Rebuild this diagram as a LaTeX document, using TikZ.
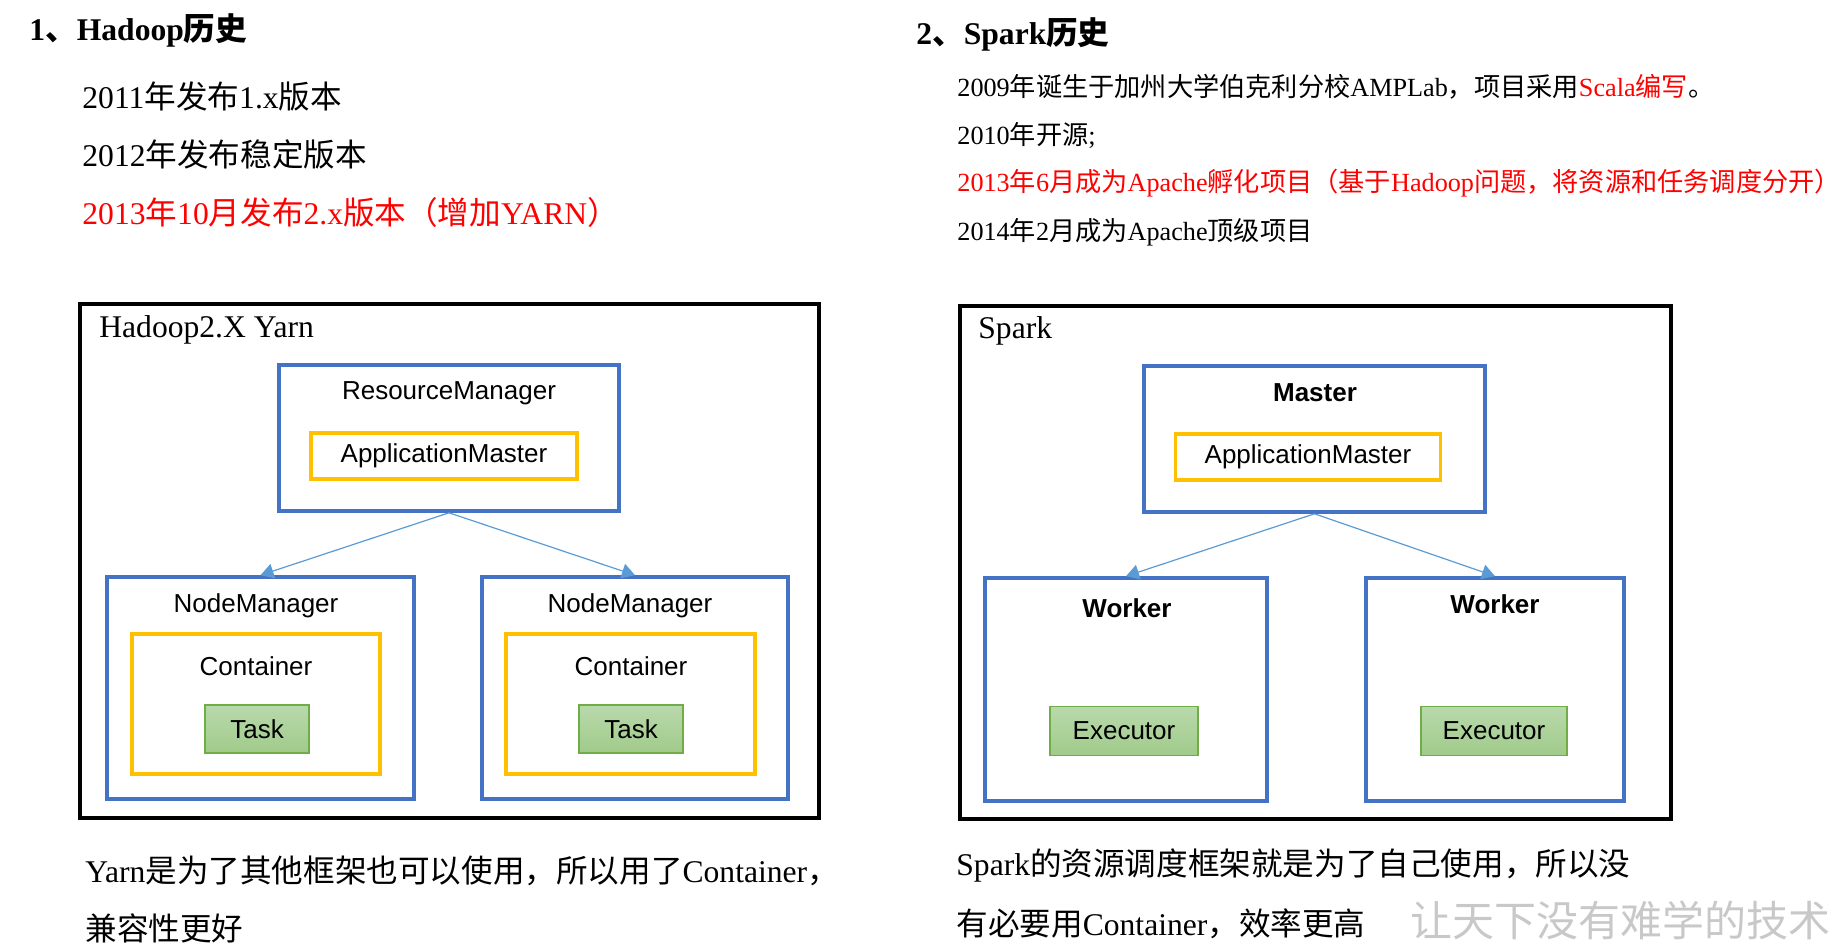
\documentclass[tikz,border=0pt]{standalone}
\usepackage{fontspec}
\setmainfont{Liberation Serif}
\newfontfamily\cjk{Noto Sans CJK SC}
\newfontfamily\boxfont{Liberation Sans}
\usetikzlibrary{arrows.meta,fit}

% switch to the CJK font for Chinese characters and full-width punctuation
\XeTeXinterchartokenstate=1
\newXeTeXintercharclass\cjkclass
\newcount\cjkc
\cjkc="3000 \loop\XeTeXcharclass\cjkc=\cjkclass \ifnum\cjkc<"303F \advance\cjkc by 1 \repeat
\cjkc="4E00 \loop\XeTeXcharclass\cjkc=\cjkclass \ifnum\cjkc<"9FFF \advance\cjkc by 1 \repeat
\cjkc="FF00 \loop\XeTeXcharclass\cjkc=\cjkclass \ifnum\cjkc<"FFEF \advance\cjkc by 1 \repeat
\makeatletter
\def\tocjk{\edef\keepfam{\f@family}\cjk}
\def\fromcjk{\fontfamily{\keepfam}\selectfont}
\makeatother
\XeTeXinterchartoks 0 \cjkclass={\tocjk}
\XeTeXinterchartoks 4095 \cjkclass={\tocjk}
\XeTeXinterchartoks \cjkclass 0={\fromcjk}
\XeTeXinterchartoks \cjkclass 4095={\fromcjk}

\definecolor{yarnBlue}{HTML}{4472C4}
\definecolor{amGold}{HTML}{FFC000}
\definecolor{taskTop}{HTML}{B9D9AC}
\definecolor{taskBot}{HTML}{A0CB8A}
\definecolor{taskEdge}{HTML}{70AD47}
\definecolor{flowBlue}{HTML}{5B9BD5}
\definecolor{noteRed}{HTML}{FF0000}
\definecolor{markGray}{HTML}{C8C8C8}

\newcommand\bigtxt{\fontsize{15.8pt}{19pt}\selectfont}
\newcommand\smalltxt{\fontsize{13.1pt}{16pt}\selectfont}
\newcommand\boxtxt{\boxfont\fontsize{13pt}{15pt}\selectfont}

\tikzset{
  frame/.style={draw=black,line width=2pt,inner sep=0pt},
  bluebox/.style={draw=yarnBlue,line width=1.8pt,inner sep=0pt},
  goldbox/.style={draw=amGold,line width=1.8pt,inner sep=0pt,font=\boxtxt},
  taskbox/.style={draw=taskEdge,line width=0.6pt,top color=taskTop,bottom color=taskBot,
    inner sep=0pt,font=\boxtxt},
  boxlabel/.style={inner sep=0pt,font=\boxtxt},
  line/.style={anchor=west,inner sep=0pt},
  flow/.style={draw=flowBlue,line width=0.6pt,-{Triangle[width=7.5pt,length=6.5pt]}}
}

\begin{document}
\begin{tikzpicture}[x=0.5pt,y=-0.5pt]
  \useasboundingbox (0,0) rectangle (1846,952);

  % history texts
  \node[line,font=\bigtxt\bfseries] (hadoopHead) at (29,30) {1、Hadoop历史};
  \node[line,font=\bigtxt] (h2011) at (82,97) {2011年发布1.x版本};
  \node[line,font=\bigtxt] (h2012) at (82,154) {2012年发布稳定版本};
  \node[line,font=\bigtxt,text=noteRed] (h2013) at (82,212) {2013年10月发布2.x版本（增加YARN）};

  \node[line,font=\bigtxt\bfseries] (sparkHead) at (916,34) {2、Spark历史};
  \node[line,font=\smalltxt] (s2009) at (957,87) {2009年诞生于加州大学伯克利分校AMPLab，项目采用\textcolor{noteRed}{Scala编写}。};
  \node[line,font=\smalltxt] (s2010) at (957,135) {2010年开源;};
  \node[line,font=\smalltxt,text=noteRed] (s2013) at (957,183) {2013年6月成为Apache孵化项目（基于Hadoop问题，将资源和任务调度分开）};
  \node[line,font=\smalltxt] (s2014) at (957,232) {2014年2月成为Apache顶级项目};

  % Hadoop 2.x / Yarn
  \node[frame,fit={(80,304) (819,818)}] (yarn) {};
  \node[line,font=\bigtxt] (yarnTitle) at (99,330) {Hadoop2.X Yarn};
  \node[bluebox,fit={(279,365) (619,511)}] (rm) {};
  \node[boxlabel] (rmLabel) at (449,393) {ResourceManager};
  \node[goldbox,minimum width=133pt,minimum height=23pt] (am1) at (444,456) {ApplicationMaster};

  \node[bluebox,fit={(107,577) (414,799)}] (nm1) {};
  \node[boxlabel] (nm1Label) at (256,606) {NodeManager};
  \node[goldbox,fit={(132,634) (380,774)}] (ct1) {};
  \node[boxlabel] (ct1Label) at (256,666) {Container};
  \node[taskbox,minimum width=52pt,minimum height=24pt] (task1) at (257,729) {Task};

  \node[bluebox,fit={(482,577) (788,799)}] (nm2) {};
  \node[boxlabel] (nm2Label) at (630,606) {NodeManager};
  \node[goldbox,fit={(506,634) (755,774)}] (ct2) {};
  \node[boxlabel] (ct2Label) at (631,666) {Container};
  \node[taskbox,minimum width=52pt,minimum height=24pt] (task2) at (631,729) {Task};

  \draw[flow] (rm.south) -- (nm1.north);
  \draw[flow] (rm.south) -- (nm2.north);

  % Spark
  \node[frame,fit={(960,306) (1671,819)}] (spark) {};
  \node[line,font=\bigtxt] (sparkTitle) at (978,331) {Spark};
  \node[bluebox,fit={(1144,366) (1485,512)}] (master) {};
  \node[boxlabel,font=\boxtxt\bfseries] (masterLabel) at (1315,393) {Master};
  \node[goldbox,minimum width=132.5pt,minimum height=23pt] (am2) at (1308,457) {ApplicationMaster};

  \node[bluebox,fit={(985,578) (1267,801)}] (wk1) {};
  \node[boxlabel,font=\boxtxt\bfseries] (wk1Label) at (1127,608) {Worker};
  \node[taskbox,minimum width=74pt,minimum height=24.5pt] (ex1) at (1124,731) {Executor};

  \node[bluebox,fit={(1366,578) (1624,801)}] (wk2) {};
  \node[boxlabel,font=\boxtxt\bfseries] (wk2Label) at (1495,604) {Worker};
  \node[taskbox,minimum width=73pt,minimum height=24.5pt] (ex2) at (1494,731) {Executor};

  \draw[flow] (master.south) -- (wk1.north);
  \draw[flow] (master.south) -- (wk2.north);

  % notes under the pictures
  \node[line,font=\bigtxt] (yarnNote1) at (85,871) {Yarn是为了其他框架也可以使用，所以用了Container，};
  \node[line,font=\bigtxt] (yarnNote2) at (85,928) {兼容性更好};
  \node[line,font=\bigtxt] (sparkNote1) at (956,866) {Spark的资源调度框架就是为了自己使用，所以没};
  \node[line,font=\bigtxt] (sparkNote2) at (956,924) {有必要用Container，效率更高};
  \node[line,font=\cjk\fontsize{21pt}{25pt}\selectfont,text=markGray] (mark) at (1410,920) {让天下没有难学的技术};
\end{tikzpicture}
\end{document}
